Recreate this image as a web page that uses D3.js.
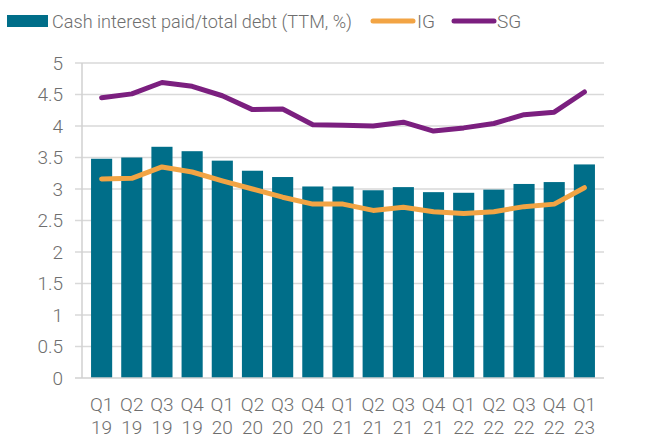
<!DOCTYPE html>
<html>
<head>
<meta charset="utf-8">
<script src="https://cdn.jsdelivr.net/npm/d3@7"></script>
<style>
  body { margin: 0; background: #fff; }
  text { font-family: Roboto, "Noto Sans", sans-serif; font-weight: 300; fill: #6e6e6e; }
</style>
</head>
<body>
<svg id="chart" width="646" height="440"></svg>
<script>
// quarters on the x axis (two-line labels)
const quarters = ['Q1', 'Q2', 'Q3', 'Q4', 'Q1', 'Q2', 'Q3', 'Q4', 'Q1', 'Q2', 'Q3', 'Q4', 'Q1', 'Q2', 'Q3', 'Q4', 'Q1'];
const years = ['19', '19', '19', '19', '20', '20', '20', '20', '21', '21', '21', '21', '22', '22', '22', '22', '23'];
const categories = quarters.map((q, i) => q + ' ' + years[i]);

// cash interest paid / total debt (TTM, %)
const cashInterest = [3.48, 3.50, 3.67, 3.60, 3.45, 3.29, 3.19, 3.04, 3.04, 2.98, 3.03, 2.95, 2.94, 2.99, 3.08, 3.11, 3.39];
const ig = [3.16, 3.17, 3.35, 3.27, 3.13, 3.00, 2.87, 2.76, 2.76, 2.66, 2.71, 2.64, 2.61, 2.64, 2.72, 2.76, 3.02];
const sg = [4.45, 4.51, 4.69, 4.63, 4.48, 4.26, 4.27, 4.02, 4.01, 4.00, 4.06, 3.92, 3.97, 4.04, 4.18, 4.22, 4.54];
const yTicks = [0, 0.5, 1, 1.5, 2, 2.5, 3, 3.5, 4, 4.5, 5];

const svg = d3.select('#chart');

const x = d3.scaleBand()
    .domain(categories)
    .range([82, 604])
    .padding(0.3);

const y = d3.scaleLinear()
    .domain([0, 5])
    .range([378, 63]);

// gridlines
svg.append('g')
    .selectAll('line')
    .data(yTicks.filter(d => d > 0))
    .join('line')
    .attr('x1', 75)
    .attr('x2', 604)
    .attr('y1', d => y(d))
    .attr('y2', d => y(d))
    .attr('stroke', '#d9d9d9')
    .attr('stroke-width', 1.5);

// y tick labels
svg.append('g')
    .selectAll('text')
    .data(yTicks)
    .join('text')
    .attr('x', 63)
    .attr('y', d => y(d))
    .attr('dy', '0.35em')
    .attr('text-anchor', 'end')
    .attr('font-size', 19)
    .text(d => d);

// bars
svg.append('g')
    .selectAll('rect')
    .data(cashInterest)
    .join('rect')
    .attr('x', (d, i) => x(categories[i]))
    .attr('y', d => y(d))
    .attr('width', x.bandwidth())
    .attr('height', d => y(0) - y(d))
    .attr('fill', '#006e89');

// axis lines
svg.append('line')
    .attr('x1', 82).attr('x2', 82)
    .attr('y1', y(5)).attr('y2', y(0))
    .attr('stroke', '#d0d0d0').attr('stroke-width', 1.5);
svg.append('line')
    .attr('x1', 75).attr('x2', 604)
    .attr('y1', y(0)).attr('y2', y(0))
    .attr('stroke', '#d0d0d0').attr('stroke-width', 1.5);

const line = d3.line()
    .x((d, i) => x(categories[i]) + x.bandwidth() / 2)
    .y(d => y(d));

svg.append('path')
    .datum(ig)
    .attr('d', line)
    .attr('fill', 'none')
    .attr('stroke', '#f2a444')
    .attr('stroke-width', 5)
    .attr('stroke-linecap', 'round')
    .attr('stroke-linejoin', 'round');

svg.append('path')
    .datum(sg)
    .attr('d', line)
    .attr('fill', 'none')
    .attr('stroke', '#7b1f7f')
    .attr('stroke-width', 5)
    .attr('stroke-linecap', 'round')
    .attr('stroke-linejoin', 'round');

// x labels
const xl = svg.append('g')
    .selectAll('text')
    .data(categories)
    .join('text')
    .attr('x', d => x(d) + x.bandwidth() / 2)
    .attr('text-anchor', 'middle')
    .attr('font-size', 19);
xl.append('tspan')
    .attr('x', d => x(d) + x.bandwidth() / 2)
    .attr('y', 411)
    .text((d, i) => quarters[i]);
xl.append('tspan')
    .attr('x', d => x(d) + x.bandwidth() / 2)
    .attr('y', 434)
    .text((d, i) => years[i]);

// legend
const lg = svg.append('g');
lg.append('rect')
    .attr('x', 7).attr('y', 15)
    .attr('width', 41).attr('height', 12)
    .attr('fill', '#006e89');
lg.append('text')
    .attr('x', 52).attr('y', 28)
    .attr('font-size', 19)
    .attr('textLength', 300)
    .attr('lengthAdjust', 'spacingAndGlyphs')
    .text('Cash interest paid/total debt (TTM, %)');
lg.append('line')
    .attr('x1', 373).attr('x2', 413)
    .attr('y1', 21).attr('y2', 21)
    .attr('stroke', '#f2a444').attr('stroke-width', 5)
    .attr('stroke-linecap', 'round');
lg.append('text')
    .attr('x', 417).attr('y', 28)
    .attr('font-size', 19)
    .text('IG');
lg.append('line')
    .attr('x1', 454).attr('x2', 494)
    .attr('y1', 21).attr('y2', 21)
    .attr('stroke', '#7b1f7f').attr('stroke-width', 5)
    .attr('stroke-linecap', 'round');
lg.append('text')
    .attr('x', 497).attr('y', 28)
    .attr('font-size', 19)
    .text('SG');
</script>
</body>
</html>
